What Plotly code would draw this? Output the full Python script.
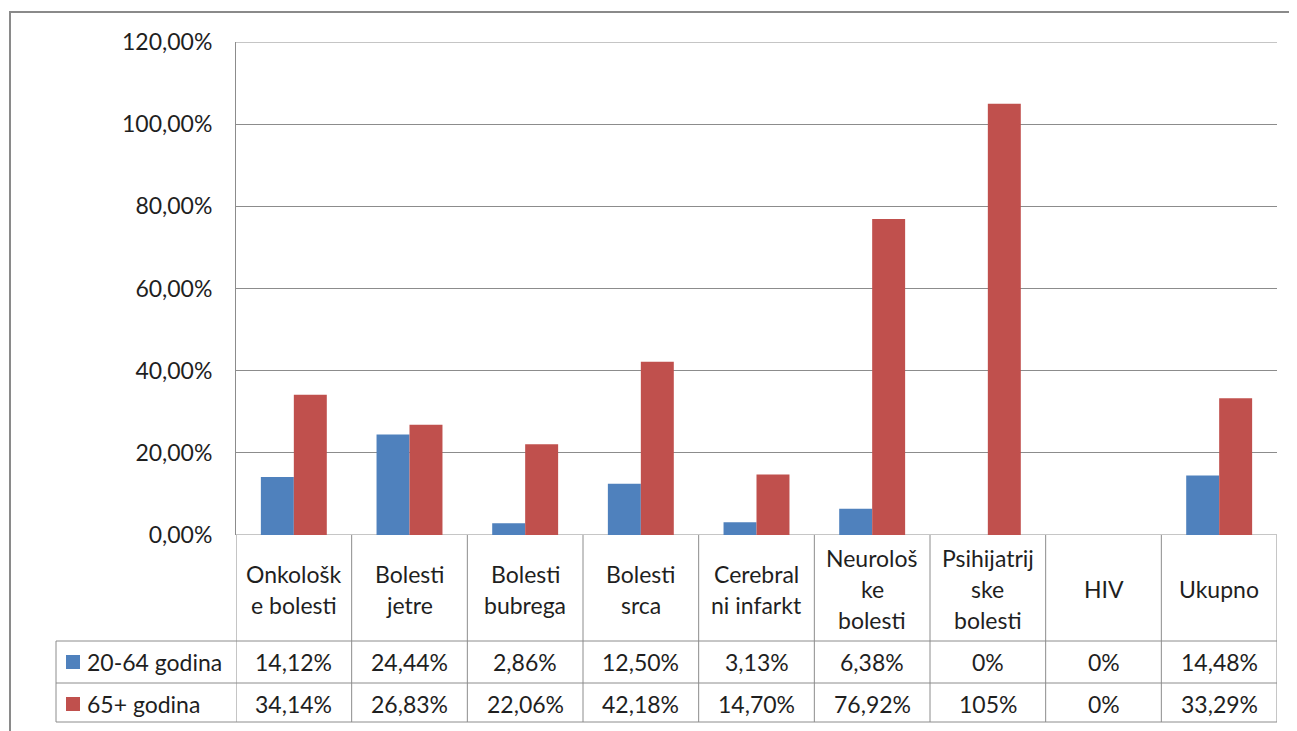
import plotly.graph_objects as go

categories = ["Onkološke bolesti", "Bolesti jetre", "Bolesti bubrega", "Bolesti srca",
              "Cerebralni infarkt", "Neurološke bolesti", "Psihijatrijske bolesti", "HIV", "Ukupno"]
header_lines = [["Onkološk", "e bolesti"], ["Bolesti", "jetre"], ["Bolesti", "bubrega"],
                ["Bolesti", "srca"], ["Cerebral", "ni infarkt"], ["Neurološ", "ke", "bolesti"],
                ["Psihijatrij", "ske", "bolesti"], ["HIV"], ["Ukupno"]]
series_names = ["20-64 godina", "65+ godina"]
young = [14.12, 24.44, 2.86, 12.50, 3.13, 6.38, 0, 0, 14.48]
old = [34.14, 26.83, 22.06, 42.18, 14.70, 76.92, 105, 0, 33.29]
young_text = ["14,12%", "24,44%", "2,86%", "12,50%", "3,13%", "6,38%", "0%", "0%", "14,48%"]
old_text = ["34,14%", "26,83%", "22,06%", "42,18%", "14,70%", "76,92%", "105%", "0%", "33,29%"]
y_ticks = [0, 20, 40, 60, 80, 100, 120]
y_tick_text = ["0,00%", "20,00%", "40,00%", "60,00%", "80,00%", "100,00%", "120,00%"]

colors = ["#4F81BD", "#C0504D"]
OFF = 8  # page body margin
SW, SH = 1297, 731
W, H = SW - OFF, SH - OFF
# plot area in screen pixels
L, R, T, B = 236, 1277, 42, 535
FONT = "Lato"
TXT = "#1f1f1f"
GRID = "#8c8c8c"
fs = 23

def py(p):
    return (B - p) / (B - T)

def px(p):
    return (p - L) / (R - L)

fig = go.Figure()
xs = list(range(len(categories)))
fig.add_trace(go.Bar(x=xs, y=young, name=series_names[0], marker=dict(color=colors[0], line=dict(width=0))))
fig.add_trace(go.Bar(x=xs, y=old, name=series_names[1], marker=dict(color=colors[1], line=dict(width=0))))

shapes = []
shapes.append(dict(type="rect", xref="paper", yref="paper", x0=px(10), x1=px(1320), y0=py(12), y1=py(760),
                   line=dict(color="#8a8a8a", width=2), layer="below"))
# top and bottom gridlines at range ends
for yv in (y_ticks[0], y_ticks[-1]):
    shapes.append(dict(type="line", xref="paper", yref="y", x0=0, x1=1, y0=yv, y1=yv,
                       line=dict(color=GRID, width=1), layer="below"))
n = len(categories)
row_y = [641, 683, 722]
for i in range(n + 1):
    shapes.append(dict(type="line", xref="x", yref="paper", x0=i - 0.5, x1=i - 0.5, y0=py(535), y1=py(row_y[-1]),
                       line=dict(color=GRID, width=1)))
shapes.append(dict(type="line", xref="paper", yref="paper", x0=px(56), x1=px(56), y0=py(row_y[0]), y1=py(row_y[-1]),
                   line=dict(color=GRID, width=1)))
for yy in row_y:
    shapes.append(dict(type="line", xref="paper", yref="paper", x0=px(56), x1=1, y0=py(yy), y1=py(yy),
                       line=dict(color=GRID, width=1)))
for k, yc in enumerate([662, 704]):
    shapes.append(dict(type="rect", xref="paper", yref="paper", x0=px(66), x1=px(80), y0=py(yc - 7), y1=py(yc + 7),
                       fillcolor=colors[k], line=dict(width=0)))

annotations = []
for i, lines in enumerate(header_lines):
    m = len(lines)
    for j, t in enumerate(lines):
        yc = 589 + (j - (m - 1) / 2) * 31
        annotations.append(dict(text=t, xref="x", yref="paper", x=i, y=py(yc), showarrow=False,
                                xanchor="center", yanchor="middle", font=dict(family=FONT, size=fs, color=TXT)))
for i in range(n):
    annotations.append(dict(text=young_text[i], xref="x", yref="paper", x=i, y=py(662), showarrow=False,
                            xanchor="center", yanchor="middle", font=dict(family=FONT, size=fs, color=TXT)))
    annotations.append(dict(text=old_text[i], xref="x", yref="paper", x=i, y=py(704), showarrow=False,
                            xanchor="center", yanchor="middle", font=dict(family=FONT, size=fs, color=TXT)))
for k, yc in enumerate([662, 704]):
    annotations.append(dict(text=series_names[k], xref="paper", yref="paper", x=px(85), y=py(yc), showarrow=False,
                            xanchor="left", yanchor="middle", font=dict(family=FONT, size=fs, color=TXT)))

fig.update_layout(
    width=W, height=H,
    margin=dict(l=L - OFF, r=SW - R, t=T - OFF, b=SH - B, pad=0),
    paper_bgcolor="white", plot_bgcolor="white",
    barmode="group", bargap=0.43, bargroupgap=0,
    showlegend=False,
    font=dict(family=FONT, size=fs, color=TXT),
    xaxis=dict(range=[-0.5, n - 0.5], showticklabels=False, showgrid=False, zeroline=False,
               showline=False, ticks="", fixedrange=True),
    yaxis=dict(range=[0, 120], tickvals=y_ticks, ticktext=y_tick_text, showgrid=True, gridcolor=GRID,
               gridwidth=1, zeroline=False, showline=True, linecolor=GRID, linewidth=1,
               ticks="outside", ticklen=0, ticklabelstandoff=18, tickfont=dict(family=FONT, size=fs, color=TXT)),
    shapes=shapes, annotations=annotations,
)
fig.write_html("out.html")
